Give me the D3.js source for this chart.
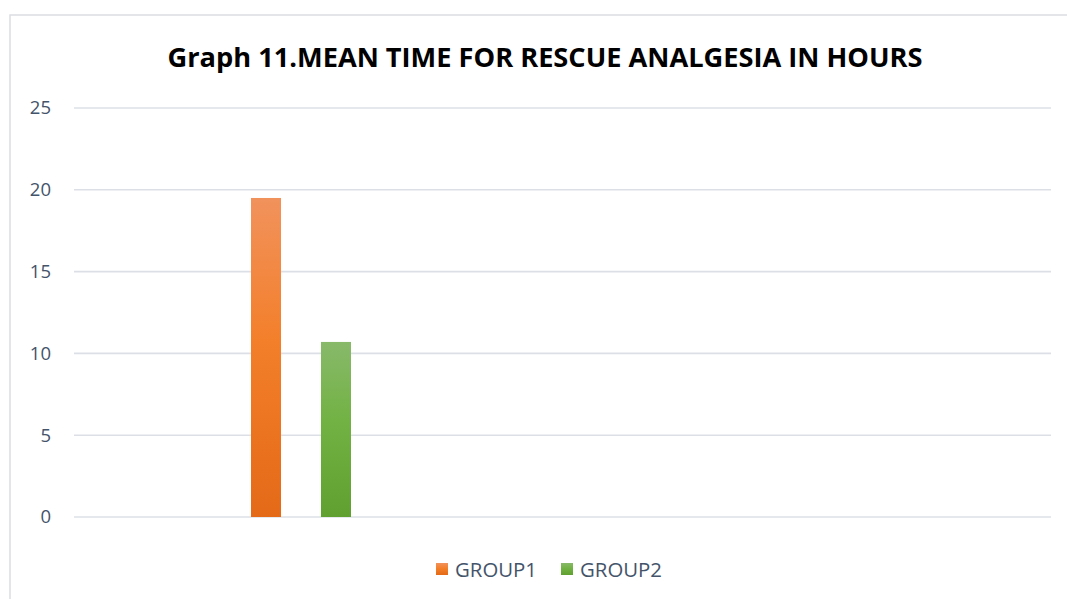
<!DOCTYPE html>
<html>
<head>
<meta charset="utf-8">
<script src="https://cdn.jsdelivr.net/npm/d3@7"></script>
<style>
  body { margin: 0; background: #fff; }
  svg { display: block; }
</style>
</head>
<body>
<svg id="chart"></svg>
<script>
const width = 1067;
const height = 599;

// data
const series = ["GROUP1", "GROUP2"];
const values = [19.5, 10.7];
const yTicks = [0, 5, 10, 15, 20, 25];
const title = "Graph 11.MEAN TIME FOR RESCUE ANALGESIA IN HOURS";

const colors = {
  GROUP1: ["#F1925C", "#F37F2A", "#E46A18"],
  GROUP2: ["#88B96A", "#72B244", "#60A030"]
};

const plot = {left: 74, right: 1051, top: 108, bottom: 517};

const svg = d3.select("#chart")
  .attr("width", width)
  .attr("height", height);

// gradients per series
const defs = svg.append("defs");
series.forEach(s => {
  const g = defs.append("linearGradient")
    .attr("id", "grad-" + s)
    .attr("x1", 0).attr("y1", 0).attr("x2", 0).attr("y2", 1);
  g.append("stop").attr("offset", "0%").attr("stop-color", colors[s][0]);
  g.append("stop").attr("offset", "45%").attr("stop-color", colors[s][1]);
  g.append("stop").attr("offset", "100%").attr("stop-color", colors[s][2]);
});

// chart area border (only top and left are in frame)
svg.append("path")
  .attr("d", `M 10 599 L 10 15 L ${width} 15`)
  .attr("fill", "none")
  .attr("stroke", "#DADDE2")
  .attr("stroke-width", 1.5);

// title
svg.append("text")
  .attr("x", 545)
  .attr("y", 67)
  .attr("text-anchor", "middle")
  .attr("font-family", "'Liberation Sans Narrow', 'Open Sans', sans-serif")
  .attr("font-weight", "bold")
  .attr("font-size", 27)
  .attr("fill", "#000")
  .attr("textLength", 755)
  .attr("lengthAdjust", "spacingAndGlyphs")
  .text(title);

const y = d3.scaleLinear()
  .domain([0, 25])
  .range([plot.bottom, plot.top]);

// series placement inside the first category
const x = d3.scaleBand()
  .domain(series)
  .range([251, 351])
  .paddingInner(0.571)
  .paddingOuter(0);

// gridlines
svg.append("g")
  .selectAll("line")
  .data(yTicks)
  .enter()
  .append("line")
  .attr("x1", plot.left)
  .attr("x2", plot.right)
  .attr("y1", d => y(d))
  .attr("y2", d => y(d))
  .attr("stroke", "#DCE0E6")
  .attr("stroke-width", 1.6);

// y axis labels
const yAxis = d3.axisLeft(y)
  .tickValues(yTicks)
  .tickSize(0)
  .tickPadding(0);

const axisG = svg.append("g")
  .attr("transform", `translate(51,0)`)
  .call(yAxis);
axisG.select(".domain").remove();
axisG.selectAll("text")
  .attr("font-family", "'Open Sans', sans-serif")
  .attr("font-size", 18.5)
  .attr("fill", "#44546A");

// bars
svg.append("g")
  .selectAll("rect")
  .data(series.map((s, i) => ({s, v: values[i]})))
  .enter()
  .append("rect")
  .attr("x", d => x(d.s))
  .attr("width", x.bandwidth())
  .attr("y", d => y(d.v))
  .attr("height", d => y(0) - y(d.v))
  .attr("fill", d => `url(#grad-${d.s})`);

// legend
const legendX = [436, 561];
const legend = svg.append("g")
  .selectAll("g")
  .data(series)
  .enter()
  .append("g")
  .attr("transform", (d, i) => `translate(${legendX[i]},563)`);

legend.append("rect")
  .attr("width", 12)
  .attr("height", 12)
  .attr("fill", d => `url(#grad-${d})`);

legend.append("text")
  .attr("x", 19)
  .attr("y", 14)
  .attr("font-family", "'Open Sans', sans-serif")
  .attr("font-size", 20)
  .attr("fill", "#44546A")
  .attr("textLength", 82)
  .attr("lengthAdjust", "spacingAndGlyphs")
  .text(d => d);
</script>
</body>
</html>
